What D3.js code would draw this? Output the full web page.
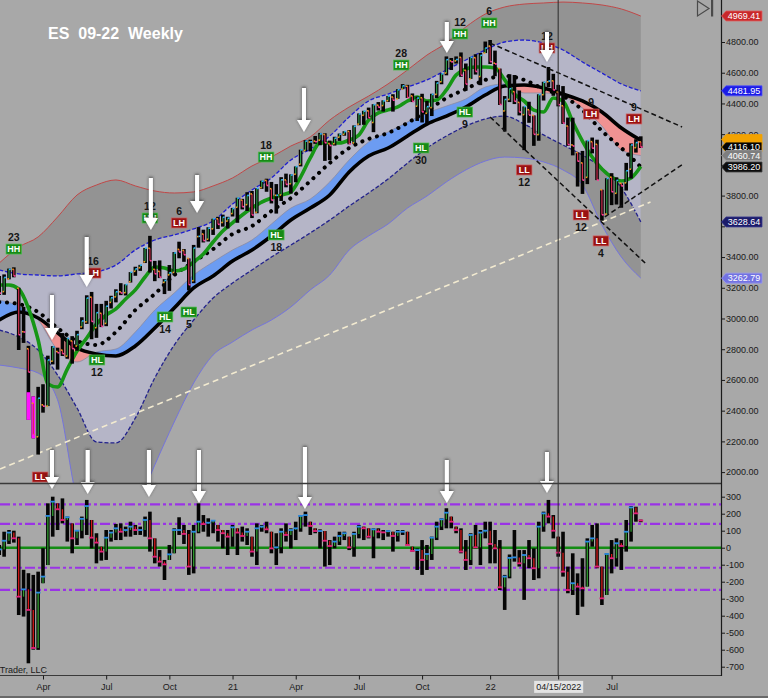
<!DOCTYPE html>
<html>
<head>
<meta charset="utf-8">
<style>
  body { margin: 0; background: #a8a8a8; }
  svg { display: block; font-family: "Liberation Sans", Arial, sans-serif; }
</style>
</head>
<body>
<div class="container"></div>
<script src="https://d3js.org/d3.v7.min.js"></script>
<script>
// ---- weekly bars, week index 0 = 2020-01-31 ... 132 = 2022-08-12 ----
var open = [
  3222,3175,3258,3320,3197,2914,2803,2448,2230,2438,
  2430,2722,2785,2794,2755,2854,2821,2945,2978,3139,
  2940,3034,2968,3105,3141,3174,3168,3239,3307,3330,
  3369,3457,3320,3307,3235,3284,3300,3450,3443,3391,
  3246,3533,3550,3516,3584,3649,3625,3634,3683,3724,
  3771,3741,3811,3691,3852,3899,3845,3802,3804,3902,
  3877,3939,4004,4094,4149,4155,4161,4198,4139,4138,
  4180,4199,4218,4143,4265,4323,4352,4276,4389,4386,
  4418,4442,4430,4493,4512,4449,4382,4437,4336,4373,
  4459,4541,4598,4677,4677,4700,4616,4560,4698,4575,
  4728,4773,4662,4627,4351,4426,4477,4407,4327,4359,
  4322,4197,4457,4541,4547,4474,4385,4253,4130,4081,
  4013,3919,4151,4134,3838,3680,3920,3815,3880,3883,
  3972,4112,4150];
var high = [
  3277,3287,3325,3333,3200,3076,2822,2493,2555,2572,
  2758,2820,2810,2905,2874,2885,2920,3008,3151,3173,
  3095,3095,3115,3148,3190,3230,3222,3302,3337,3349,
  3459,3538,3375,3378,3256,3348,3432,3500,3452,3391,
  3479,3595,3578,3594,3649,3662,3676,3662,3720,3786,
  3779,3822,3830,3847,3897,3910,3889,3875,3920,3943,
  3938,3990,4099,4161,4164,4188,4208,4206,4158,4183,
  4204,4219,4227,4257,4335,4352,4373,4395,4409,4420,
  4449,4460,4493,4526,4521,4465,4445,4463,4417,4463,
  4547,4596,4706,4696,4706,4732,4660,4701,4720,4729,
  4803,4813,4744,4627,4448,4590,4585,4484,4380,4411,
  4322,4460,4541,4637,4593,4521,4513,4308,4307,4082,
  4091,4158,4178,4164,3838,3913,3946,3919,3880,4013,
  4140,4167,4186];
var low = [
  3154,3154,3255,3268,2795,2841,2340,2220,2114,2387,
  2430,2701,2667,2756,2738,2706,2790,2930,2965,2865,
  2874,2944,2950,3065,3105,3152,3150,3234,3278,3310,
  3361,3299,3243,3263,3159,3180,3282,3392,3369,3183,
  3230,3461,3495,3501,3544,3583,3598,3586,3664,3623,
  3710,3700,3654,3685,3844,3825,3749,3683,3765,3854,
  3813,3887,3990,4089,4088,4137,4128,4026,4031,4126,
  4156,4190,4134,4135,4258,4261,4301,4213,4354,4347,
  4410,4347,4430,4493,4436,4409,4286,4276,4266,4318,
  4435,4525,4583,4618,4660,4573,4483,4560,4588,4519,
  4728,4657,4577,4390,4217,4409,4396,4322,4096,4274,
  4124,4157,4419,4506,4450,4381,4267,4124,4062,3859,
  3811,3875,4075,3901,3637,3680,3738,3742,3721,3833,
  3911,4080,4110];
var close = [
  3165,3267,3320,3277,2894,2912,2651,2245,2481,2429,
  2730,2815,2777,2771,2870,2804,2895,2984,3133,2981,
  3038,2949,3080,3135,3174,3166,3221,3301,3323,3347,
  3458,3376,3291,3269,3248,3298,3427,3433,3415,3220,
  3459,3535,3507,3588,3649,3613,3659,3653,3716,3784,
  3728,3801,3674,3847,3894,3866,3771,3802,3903,3873,
  3934,3989,4098,4155,4150,4151,4202,4144,4126,4174,
  4200,4217,4136,4251,4332,4350,4307,4392,4375,4417,
  4448,4421,4489,4515,4438,4413,4435,4345,4379,4459,
  4533,4593,4685,4671,4686,4583,4526,4700,4608,4713,
  4761,4672,4657,4393,4426,4496,4414,4344,4380,4324,
  4199,4458,4538,4546,4488,4392,4272,4132,4123,4024,
  3901,4158,4109,3901,3675,3912,3825,3899,3863,3962,
  4130,4145,4116];

// ---- oscillator (lower panel) ----
var oscHigh = [
  16,94,104,100,65,-130,-150,-160,-141,-3,
  261,300,261,290,183,143,104,183,281,163,
  85,6,104,104,140,143,124,153,134,124,
  183,212,55,-14,-72,16,114,179,134,104,
  134,261,192,173,163,134,104,104,134,114,
  124,114,65,143,134,153,94,85,114,143,
  114,153,192,212,153,114,108,98,45,65,
  94,94,65,94,134,124,114,114,114,104,
  104,94,104,104,94,6,-4,45,16,65,
  153,173,232,183,124,114,45,85,134,104,
  153,153,104,45,-160,-40,104,-14,-14,45,
  -4,153,212,281,192,65,94,-111,-33,-151,
  -62,55,134,143,-111,-33,45,55,45,163,
  245,241,165];
var oscLow = [
  -43,-53,22,30,-396,-405,-680,-600,-601,-209,
  -102,65,104,143,36,-33,16,55,75,-4,
  -92,-76,-72,36,45,45,65,65,75,75,
  65,-23,-92,-111,-190,-72,-33,75,22,-160,
  -151,85,94,65,85,36,-4,-43,6,-43,
  36,16,-53,-102,94,85,-33,-102,-33,36,
  -4,45,94,124,75,85,-4,-111,-102,-4,
  16,45,-14,-53,55,45,55,-62,55,45,
  65,-23,36,75,16,-23,-131,-160,-131,-72,
  45,104,114,114,85,-33,-131,-102,-4,-102,
  55,-92,-92,-249,-366,-180,-82,-111,-307,-121,
  -190,-180,94,143,55,-53,-170,-268,-278,-396,
  -347,-229,6,-121,-337,-278,-151,-111,-131,-23,
  36,153,150];
var oscClose = [
  -10,41,89,55,-288,-245,-366,-590,-264,-170,
  187,271,226,163,179,55,100,170,245,59,
  30,-23,59,89,114,94,104,124,104,104,
  163,55,-53,-82,-98,-39,104,104,81,-111,
  94,153,139,147,159,104,85,65,120,89,
  69,94,-23,114,124,108,-4,2,94,75,
  104,114,187,192,128,98,98,41,10,36,
  69,85,2,81,124,114,65,108,94,90,
  98,69,94,94,16,-19,-14,-72,-37,59,
  124,167,206,153,104,-23,-72,75,2,89,
  100,22,-4,-233,-170,-60,-57,-92,-43,-62,
  -121,124,202,183,100,-29,-141,-249,-209,-229,
  -239,36,55,-111,-298,-37,-62,26,10,94,
  237,202,160];
var oscLevels = [255, 140, -118, -248];

// ---- indicator lines, read at these weeks ----
var bandWeeks = [0,4,8,12,16,20,24,28,32,36,40,44,48,52,56,60,64,68,72,76,80,84,88,92,96,100,104,108,112,116,120,124,128,132];
var outerUpper = [3361,3465,3531,3661,3804,3869,3902,3863,3830,3817,3824,3863,3915,3993,4051,4123,4182,4292,4377,4448,4527,4618,4715,4793,4898,4982,5028,5047,5054,5060,5054,5041,5015,4969];
var outerLower = [2697,2678,2645,2470,1818,1525,1525,1753,2046,2326,2580,2762,2847,2925,2990,3075,3186,3283,3446,3537,3615,3719,3797,3889,3967,4025,4051,4045,4019,3967,3869,3609,3400,3263];
var innerUpper = [3316,3290,3283,3277,3290,3303,3348,3446,3511,3544,3583,3635,3745,3837,3915,4032,4103,4188,4312,4416,4461,4507,4553,4618,4683,4748,4800,4813,4793,4748,4670,4598,4527,4482];
var innerLower = [2925,2880,2795,2632,2417,2196,2190,2352,2613,2827,2990,3133,3231,3316,3400,3478,3557,3641,3732,3817,3908,4012,4110,4188,4253,4299,4318,4266,4195,4129,4064,3980,3850,3629];
var slowLine   = [2990,3042,3003,2906,2808,2769,2756,2821,2938,3068,3199,3277,3374,3446,3537,3641,3719,3804,3954,4058,4110,4188,4266,4318,4377,4455,4514,4520,4501,4461,4416,4344,4240,4160];
var fillEdge   = [3120,3081,2990,2795,2717,2782,2801,2912,3055,3166,3283,3368,3446,3511,3615,3719,3778,3889,4032,4149,4214,4279,4338,4383,4429,4507,4527,4468,4468,4448,4370,4253,4097,4061];
var dottedLine = [3107,3094,3042,2938,2854,2828,2912,3055,3160,3283,3368,3452,3550,3602,3700,3784,3895,4012,4110,4169,4208,4273,4351,4435,4494,4553,4579,4553,4494,4448,4357,4221,4110,3986];
var greenWeeks = [0,2,4,6,8,10,12,14,16,18,20,22,24,26,28,30,32,34,36,38,40,42,44,46,48,50,52,54,56,58,60,62,64,66,68,70,72,74,76,78,80,82,84,86,88,90,92,94,96,98,100,102,104,106,108,110,112,114,116,118,120,122,124,126,128,130,132];
var greenLine = [3218,3218,3192,3068,2860,2574,2554,2671,2788,2873,2964,3023,3062,3127,3186,3270,3335,3329,3309,3322,3368,3420,3498,3570,3622,3674,3719,3758,3784,3804,3824,3921,4045,4142,4142,4142,4162,4195,4292,4338,4358,4377,4416,4442,4416,4422,4488,4585,4624,4637,4637,4631,4553,4461,4416,4357,4344,4435,4416,4279,4155,4051,3973,3921,3895,3915,3990];

// ---- swing labels ----
var swingWeek  = [3.0,19.3,20.1,31.0,34.1,37.0,39.0,54.9,57.0,82.7,86.8,94.8,95.8,100.8,108.0,112.7,119.7,121.8,123.8,130.6,8.4];
var swingPrice = [3452,3296,2730,3654,3010,3622,3042,4051,3544,4650,4110,4852,4344,4924,3967,4761,3674,4331,3505,4299,1968];
var swingType  = ["HH","LH","HL","HH","HL","LH","HL","HH","HL","HH","HL","HH","HL","HH","LL","LH","LL","LH","LL","LH","LL"];
var swingCount = ["23","16","12","12","14","6","5","18","18","28","30","12","9","6","12","12","12","9","4","9",""];

// ---- arrows ----
var priceArrowWeek = [10.85,18.0,31.2,40.7,62.7,92.1,112.7];
var priceArrowTop  = [3153,3531,3915,3934,4501,4930,4865];
var priceArrowTip  = [2860,3205,3576,3687,4214,4728,4670];
var oscArrowWeek = [10.85,18.2,30.8,41.1,62.9,92.1,112.7];
var oscArrowTop  = [575,575,575,575,592,516,563];
var oscArrowTip  = [345,316,298,263,228,263,322];

// ---- drawn trend lines (week, price) ----
var trendFromWeek = [0.15,101,101,124.6];
var trendFromPrice = [2020,4793,4312,3661];
var trendToWeek = [134,140.5,132.9,140.5];
var trendToPrice = [3758,4247,3361,4001];

// ---- axis / tags ----
var tickWeeks  = [9,22,35,48,61,74,87,101,115,126];
var tickLabels = ["Apr","Jul","Oct","21","Apr","Jul","Oct","22","04/15/2022","Jul"];
var cursorWeek = 115;
var tagValues = [4969.41,4481.95,4165,4116.10,4060.74,3986.20,3628.64,3262.79];
var climaxWeeks = [6,7];
var climaxBelow = 2520;

// =====================================================================
var svg = d3.select('.container').append('svg')
            .attr('width', 768).attr('height', 698);

var x  = d3.scaleLinear().domain([0, 132]).range([-0.74, 640.78]);
var yP = d3.scaleLinear().domain([2000, 4800]).range([472.1, 42]);
var yO = d3.scaleLinear().domain([-700, 300]).range([666.7, 496.7]);

svg.append('rect').attr('width', 768).attr('height', 698).attr('fill', '#a8a8a8');

var defs = svg.append('defs');
defs.append('clipPath').attr('id', 'clipPrice')
    .append('rect').attr('x', 0).attr('y', 0).attr('width', 721).attr('height', 483.5);
defs.append('clipPath').attr('id', 'clipOsc')
    .append('rect').attr('x', 0).attr('y', 484).attr('width', 721).attr('height', 191);

var idx = d3.range(bandWeeks.length);
var bx = function(i) { return x(bandWeeks[i]); };

defs.append('clipPath').attr('id', 'aboveSlow').append('path')
    .attr('d', d3.area().x(bx).y0(-10).y1(function(i) { return yP(slowLine[i]); })
                 .curve(d3.curveMonotoneX)(idx));
defs.append('clipPath').attr('id', 'belowSlow').append('path')
    .attr('d', d3.area().x(bx).y0(function(i) { return yP(slowLine[i]); }).y1(600)
                 .curve(d3.curveMonotoneX)(idx));

var shadow = defs.append('filter').attr('id', 'arrowShadow')
                 .attr('x', '-100%').attr('y', '-20%').attr('width', '300%').attr('height', '140%');
shadow.append('feDropShadow').attr('dx', 0).attr('dy', -1).attr('stdDeviation', 1.6)
      .attr('flood-color', '#333').attr('flood-opacity', 0.8);

// ------------------------- price panel -------------------------
var pg = svg.append('g').attr('clip-path', 'url(#clipPrice)');

function bandArea(lo, hi) {
    return d3.area().x(bx)
             .y0(function(i) { return yP(lo[i]); })
             .y1(function(i) { return yP(hi[i]); })
             .curve(d3.curveMonotoneX)(idx);
}
function bandLine(vals) {
    return d3.line().x(bx).y(function(i) { return yP(vals[i]); })
             .curve(d3.curveMonotoneX)(idx);
}

pg.append('path').attr('d', bandArea(outerLower, outerUpper)).attr('fill', '#939393');
pg.append('path').attr('d', bandLine(outerUpper)).attr('fill', 'none')
  .attr('stroke', '#c04848').attr('stroke-width', 1);
pg.append('path').attr('d', bandLine(outerLower)).attr('fill', 'none')
  .attr('stroke', '#7474dc').attr('stroke-width', 1);

pg.append('path').attr('d', bandArea(innerLower, innerUpper)).attr('fill', '#b5b5c7');
pg.append('path').attr('d', bandLine(innerUpper)).attr('fill', 'none')
  .attr('stroke', '#1e1ed0').attr('stroke-width', 1.3).attr('stroke-dasharray', '4,2');
pg.append('path').attr('d', bandLine(innerLower)).attr('fill', 'none')
  .attr('stroke', '#22228c').attr('stroke-width', 1.3).attr('stroke-dasharray', '4,2');

// long term trend line (cream)
pg.append('line')
  .attr('x1', x(trendFromWeek[0])).attr('y1', yP(trendFromPrice[0]))
  .attr('x2', x(trendToWeek[0])).attr('y2', yP(trendToPrice[0]))
  .attr('stroke', '#f2ead0').attr('stroke-width', 1.6).attr('stroke-dasharray', '6,4');

// fill between fast edge and slow line
var mArea = bandArea(slowLine, fillEdge);
pg.append('path').attr('d', mArea).attr('fill', '#6c9cf2').attr('clip-path', 'url(#aboveSlow)');
pg.append('path').attr('d', mArea).attr('fill', '#ef9292').attr('clip-path', 'url(#belowSlow)');
pg.append('path').attr('d', bandLine(fillEdge)).attr('fill', 'none')
  .attr('stroke', '#8c8ca2').attr('stroke-width', 0.8);

pg.append('path').attr('d', bandLine(dottedLine)).attr('fill', 'none')
  .attr('stroke', '#000').attr('stroke-width', 4).attr('stroke-linecap', 'round')
  .attr('stroke-dasharray', '0.1,7.6');
pg.append('path').attr('d', bandLine(slowLine)).attr('fill', 'none')
  .attr('stroke', '#000').attr('stroke-width', 3.6);

var gIdx = d3.range(greenWeeks.length);
pg.append('path')
  .attr('d', d3.line().x(function(i) { return x(greenWeeks[i]); })
               .y(function(i) { return yP(greenLine[i]); })
               .curve(d3.curveMonotoneX)(gIdx))
  .attr('fill', 'none').attr('stroke', '#169616').attr('stroke-width', 3.6);

// bars
var weeks = d3.range(close.length);
var bars = pg.append('g');
bars.selectAll('rect.hl').data(weeks).join('rect').attr('class', 'hl')
    .attr('x', function(i) { return x(i) - 1.8; }).attr('width', 3.6)
    .attr('y', function(i) { return yP(high[i]); })
    .attr('height', function(i) { return Math.max(1, yP(low[i]) - yP(high[i])); })
    .attr('fill', '#050505');
bars.selectAll('rect.clx').data(climaxWeeks).join('rect').attr('class', 'clx')
    .attr('x', function(i) { return x(i) - 1.8; }).attr('width', 3.6)
    .attr('y', function(i) { return yP(Math.min(climaxBelow, high[i])); })
    .attr('height', function(i) { return yP(low[i]) - yP(Math.min(climaxBelow, high[i])); })
    .attr('fill', '#ff10ff');
bars.selectAll('line.oc').data(weeks).join('line').attr('class', 'oc')
    .attr('x1', function(i) { return x(i); }).attr('x2', function(i) { return x(i); })
    .attr('y1', function(i) { return yP(open[i]); })
    .attr('y2', function(i) { return yP(close[i]) + (close[i] === open[i] ? 1 : 0); })
    .attr('stroke', function(i) { return close[i] >= open[i] ? '#2f9a4a' : '#cf2d4d'; })
    .attr('stroke-width', 1.2);
bars.selectAll('rect.ot').data(weeks).join('rect').attr('class', 'ot')
    .attr('x', function(i) { return x(i) - 1.6; }).attr('width', 1.6)
    .attr('y', function(i) { return yP(open[i]) - 0.8; }).attr('height', 1.6)
    .attr('fill', '#f39a1c');
bars.selectAll('rect.ct').data(weeks).join('rect').attr('class', 'ct')
    .attr('x', function(i) { return x(i); }).attr('width', 1.8)
    .attr('y', function(i) { return yP(close[i]) - 0.8; }).attr('height', 1.6)
    .attr('fill', function(i) { return close[i] >= open[i] ? '#27b4ff' : '#ff3d9e'; });

// channel lines (black dashed)
for (var t = 1; t < trendFromWeek.length; t++) {
    pg.append('line')
      .attr('x1', x(trendFromWeek[t])).attr('y1', yP(trendFromPrice[t]))
      .attr('x2', x(trendToWeek[t])).attr('y2', yP(trendToPrice[t]))
      .attr('stroke', '#111').attr('stroke-width', 1.5).attr('stroke-dasharray', '5,3');
}

// swing labels
var sw = pg.selectAll('g.swing').data(d3.range(swingWeek.length)).join('g')
           .attr('class', 'swing')
           .attr('transform', function(i) {
               return 'translate(' + x(swingWeek[i]) + ',' + yP(swingPrice[i]) + ')';
           });
sw.append('rect').attr('x', -7.8).attr('y', -5).attr('width', 15.6).attr('height', 10)
  .attr('fill', function(i) { return swingType[i] === 'HH' || swingType[i] === 'HL' ? '#178a17' : '#9a1212'; })
  .attr('stroke', function(i) { return swingType[i] === 'HH' || swingType[i] === 'HL' ? '#4fbf4f' : '#d06060'; })
  .attr('stroke-width', 0.7);
sw.append('text').attr('y', 3.3).attr('text-anchor', 'middle')
  .attr('font-size', 9).attr('font-weight', 'bold').attr('fill', '#fff')
  .text(function(i) { return swingType[i]; });
sw.append('text').attr('text-anchor', 'middle')
  .attr('y', function(i) { return swingType[i][1] === 'H' ? -8 : 16; })
  .attr('font-size', 10.5).attr('font-weight', 'bold').attr('fill', '#151515')
  .text(function(i) { return swingCount[i]; });

// ------------------------- oscillator panel -------------------------
var og = svg.append('g').attr('clip-path', 'url(#clipOsc)');
og.selectAll('line.lvl').data(oscLevels).join('line').attr('class', 'lvl')
  .attr('x1', 0).attr('x2', 721)
  .attr('y1', function(d) { return yO(d); }).attr('y2', function(d) { return yO(d); })
  .attr('stroke', '#9a33e6').attr('stroke-width', 2.2)
  .attr('stroke-dasharray', '10,3,3,3,3,3');
og.append('line').attr('x1', 0).attr('x2', 721).attr('y1', yO(0)).attr('y2', yO(0))
  .attr('stroke', '#138c13').attr('stroke-width', 2.6);

og.selectAll('rect.ohl').data(weeks).join('rect').attr('class', 'ohl')
  .attr('x', function(i) { return x(i) - 1.8; }).attr('width', 3.6)
  .attr('y', function(i) { return yO(oscHigh[i]); })
  .attr('height', function(i) { return Math.max(1.5, yO(oscLow[i]) - yO(oscHigh[i])); })
  .attr('fill', '#050505');
function prevClose(i) { return i > 0 ? oscClose[i - 1] : oscClose[i]; }
og.selectAll('line.oco').data(weeks).join('line').attr('class', 'oco')
  .attr('x1', function(i) { return x(i); }).attr('x2', function(i) { return x(i); })
  .attr('y1', function(i) { return yO(Math.max(oscLow[i], Math.min(oscHigh[i], prevClose(i)))); })
  .attr('y2', function(i) { return yO(oscClose[i]); })
  .attr('stroke', function(i) { return oscClose[i] >= prevClose(i) ? '#2e9a2e' : '#d41a1a'; })
  .attr('stroke-width', 1.3);
og.selectAll('rect.oct').data(weeks).join('rect').attr('class', 'oct')
  .attr('x', function(i) { return x(i) - 2.4; }).attr('width', 4.8)
  .attr('y', function(i) { return yO(oscClose[i]) - 0.9; }).attr('height', 1.8)
  .attr('fill', function(i) { return oscClose[i] >= prevClose(i) ? '#2a8ae0' : '#e0207a'; });

// ------------------------- arrows -------------------------
function arrow(cx, yTop, yTip) {
    var head = 12;
    var a = svg.append('g').attr('filter', 'url(#arrowShadow)');
    a.append('path')
     .attr('d', 'M' + (cx - 2) + ',' + yTop + ' L' + (cx + 2) + ',' + yTop +
                ' L' + (cx + 2) + ',' + (yTip - head) + ' L' + (cx + 7) + ',' + (yTip - head) +
                ' L' + cx + ',' + yTip + ' L' + (cx - 7) + ',' + (yTip - head) +
                ' L' + (cx - 2) + ',' + (yTip - head) + ' Z')
     .attr('fill', '#ffffff');
}
priceArrowWeek.forEach(function(w, i) { arrow(x(w), yP(priceArrowTop[i]), yP(priceArrowTip[i])); });
oscArrowWeek.forEach(function(w, i) { arrow(x(w), yO(oscArrowTop[i]), yO(oscArrowTip[i])); });

// ------------------------- frame, axes -------------------------
svg.append('line').attr('x1', x(cursorWeek)).attr('x2', x(cursorWeek))
   .attr('y1', 0).attr('y2', 675).attr('stroke', '#2a2a2a').attr('stroke-width', 1);
svg.append('line').attr('x1', 0).attr('x2', 721).attr('y1', 483.5).attr('y2', 483.5)
   .attr('stroke', '#3a3a3a').attr('stroke-width', 1.5);
svg.append('line').attr('x1', 0).attr('x2', 721).attr('y1', 675.5).attr('y2', 675.5)
   .attr('stroke', '#3a3a3a').attr('stroke-width', 1.2);
svg.append('line').attr('x1', 721.5).attr('x2', 721.5).attr('y1', 0).attr('y2', 676)
   .attr('stroke', '#1a1a1a').attr('stroke-width', 1.2);
svg.append('line').attr('x1', 0).attr('x2', 768).attr('y1', 697).attr('y2', 697)
   .attr('stroke', '#555').attr('stroke-width', 1.5);

function styleAxis(g) {
    g.select('.domain').remove();
    g.selectAll('line').attr('stroke', '#1a1a1a');
    g.selectAll('text').attr('fill', '#1a1a1a').attr('font-size', 9)
     .attr('font-family', '"Liberation Sans", Arial, sans-serif');
}
var pAx = svg.append('g').attr('transform', 'translate(721,0)')
   .call(d3.axisRight(yP).tickValues(d3.range(2000, 4801, 200))
            .tickFormat(function(d) { return d.toFixed(2); }).tickSize(4).tickPadding(1))
   .call(styleAxis);
// labels hidden behind the value tags
pAx.selectAll('.tick text').filter(function(d) {
    return tagValues.some(function(v, k) { return k !== 2 && Math.abs(yP(v) - yP(d)) < 9; });
}).remove();
svg.append('g').attr('transform', 'translate(721,0)')
   .call(d3.axisRight(yO).tickValues(d3.range(-700, 301, 100))
            .tickFormat(function(d) { return String(d); }).tickSize(4).tickPadding(1))
   .call(styleAxis);
var xAx = svg.append('g').attr('transform', 'translate(0,675.5)')
   .call(d3.axisBottom(x).tickValues(tickWeeks)
            .tickFormat(function(d, i) { return tickLabels[i]; }).tickSize(4).tickPadding(4))
   .call(styleAxis);
xAx.selectAll('.tick').filter(function(d) { return d === cursorWeek; }).each(function() {
    var tk = d3.select(this);
    var bb = tk.select('text').node().getBBox();
    tk.insert('rect', 'text').attr('x', bb.x - 2).attr('y', bb.y - 1)
      .attr('width', bb.width + 4).attr('height', bb.height + 2)
      .attr('fill', '#e4e4e4');
});

// price tags on the axis
var tagFill = ['#c8282a', '#1b1be6', '#f2a200', '#050505', '#7e7e7e', '#0d0d0d', '#1c1c6a', '#7272e2'];
var tagStroke = ['#e06060', '#5050ff', '#f2a200', '#f2a200', '#a0a0a0', '#444', '#3a3a90', '#9a9af0'];
tagValues.forEach(function(v, i) {
    var ty = yP(v);
    var tg = svg.append('g');
    tg.append('path')
      .attr('d', 'M721.5,' + ty + ' L726,' + (ty - 5) + ' L762,' + (ty - 5) +
                 ' L762,' + (ty + 5) + ' L726,' + (ty + 5) + ' Z')
      .attr('fill', tagFill[i]).attr('stroke', tagStroke[i]).attr('stroke-width', 0.8);
    if (i !== 2) {
        tg.append('text').attr('x', 744).attr('y', ty + 3.3).attr('text-anchor', 'middle')
          .attr('font-size', 9).attr('fill', '#fff').text(v.toFixed(2));
    }
});

// title, credits, nav icon
svg.append('text').attr('x', 48).attr('y', 39).attr('font-size', 16).attr('font-weight', 'bold')
   .attr('fill', '#ffffff').attr('xml:space', 'preserve').style('white-space', 'pre')
   .text('ES  09-22  Weekly');
svg.append('text').attr('x', 47).attr('y', 673).attr('text-anchor', 'end')
   .attr('font-size', 9).attr('fill', '#1a1a1a').text('\u00a9 2022 NinjaTrader, LLC');
svg.append('path').attr('d', 'M697.5,1 L709,8.5 L697.5,16 Z')
   .attr('fill', 'none').attr('stroke', '#4a4a4a').attr('stroke-width', 1.2);
svg.append('rect').attr('x', 711).attr('y', 0).attr('width', 2.2).attr('height', 16.5).attr('fill', '#4a4a4a');
</script>
</body>
</html>
